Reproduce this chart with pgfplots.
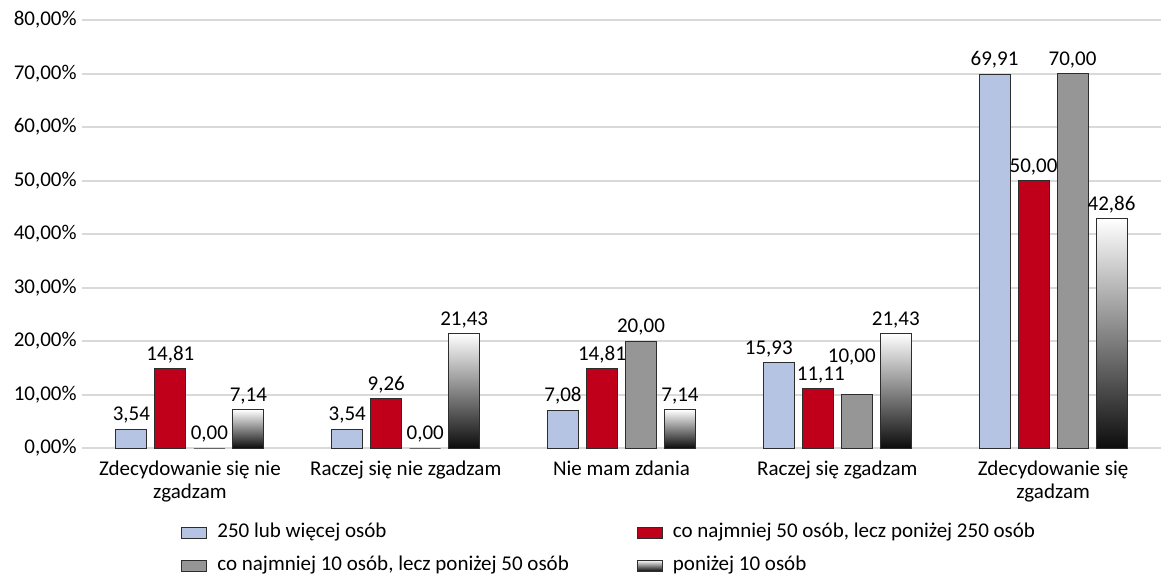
\documentclass[border=0pt]{standalone}
\usepackage{fontspec}
\setmainfont{Carlito}
\usepackage{pgfplots}
\pgfplotsset{compat=1.18}
\definecolor{cblue}{RGB}{180,196,226}
\definecolor{cred}{RGB}{192,0,26}
\definecolor{cgray}{RGB}{150,150,150}
\definecolor{cgrid}{RGB}{217,217,217}
\definecolor{cedge}{RGB}{45,45,45}
\begin{document}
\fontsize{10.5}{11.5}\selectfont
\begin{tikzpicture}
\path[use as bounding box] (-41pt,-63.5pt) rectangle (543pt,224pt);
\begin{axis}[
  at={(0,0)}, anchor=south west,
  scale only axis, width=539.5pt, height=214pt,
  xmin=-0.5, xmax=4.5, ymin=0, ymax=80,
  ytick={0,10,...,80},
  xtick={0,1,2,3,4},
  xticklabels={{Zdecydowanie się nie\\zgadzam},{Raczej się nie zgadzam},{Nie mam zdania},{Raczej się zgadzam},{Zdecydowanie się\\zgadzam}},
  xticklabel style={align=center, font=\fontsize{10.5}{11.5}\selectfont, inner xsep=4pt, inner ysep=6.5pt},
  yticklabel={\pgfmathprintnumber[fixed,fixed zerofill,precision=2,use comma]{\tick}\%},
  yticklabel style={font=\fontsize{10.5}{11.5}\selectfont, inner sep=2.5pt},
  /pgf/number format/assume math mode=true,
  ymajorgrids, grid style={draw=cgrid, line width=1pt},
  axis line style={draw=none},
  major tick length=0pt,
  ybar=4pt, bar width=15.5pt,
  nodes near coords={\pgfmathprintnumber[fixed,fixed zerofill,precision=2,use comma]{\pgfplotspointmeta}},
  every node near coord/.append style={font=\fontsize{10.5}{11.5}\selectfont, text=black, inner sep=2.5pt},
  legend columns=2,
  legend cell align=left,
  legend style={draw=none, fill=none, at={(0.0862,-0.1525)}, anchor=north west,
    font=\fontsize{10.5}{11.5}\selectfont,
    nodes={inner ysep=2.5pt, text height=7.5pt, text depth=2.5pt},
    row sep=1.5pt,
    /tikz/column 1/.style={column sep=3pt},
    /tikz/column 2/.style={column sep=32pt},
    /tikz/column 3/.style={column sep=3pt}},
  mylegend/.style={legend image code/.code={\draw[##1] (0pt,-2.75pt) rectangle (12.5pt,2.75pt);}},
  grad/.style={top color=white, middle color=black!35, bottom color=black!95, draw=cedge, line width=0.5pt, mylegend, bar shift=29.25pt},
]
\addplot[fill=cblue, draw=cedge, line width=0.5pt, mylegend, bar shift=-29.25pt,
  coordinate style/.condition={x==3}{xshift=-5pt}] coordinates {(0,3.54) (1,3.54) (2,7.08) (3,15.93) (4,69.91)};
\addplot[fill=cred, draw=cedge, line width=0.5pt, mylegend, bar shift=-9.75pt,
  coordinate style/.condition={x==3}{xshift=1.5pt}] coordinates {(0,14.81) (1,9.26) (2,14.81) (3,11.11) (4,50.00)};
\addplot[fill=cgray, draw=cedge, line width=0.5pt, mylegend, bar shift=9.75pt,
  coordinate style/.condition={x==3}{xshift=-2.5pt, yshift=12pt}] coordinates {(0,0) (1,0) (2,20.00) (3,10.00) (4,70.00)};
\addplot[grad] coordinates {(0,7.14)};
\addplot[grad, forget plot] coordinates {(1,21.43)};
\addplot[grad, forget plot] coordinates {(2,7.14)};
\addplot[grad, forget plot] coordinates {(3,21.43)};
\addplot[grad, forget plot] coordinates {(4,42.86)};
\legend{250 lub więcej osób, {co najmniej 50 osób, lecz poniżej 250 osób}, {co najmniej 10 osób, lecz poniżej 50 osób}, poniżej 10 osób}
\end{axis}
\end{tikzpicture}
\end{document}
